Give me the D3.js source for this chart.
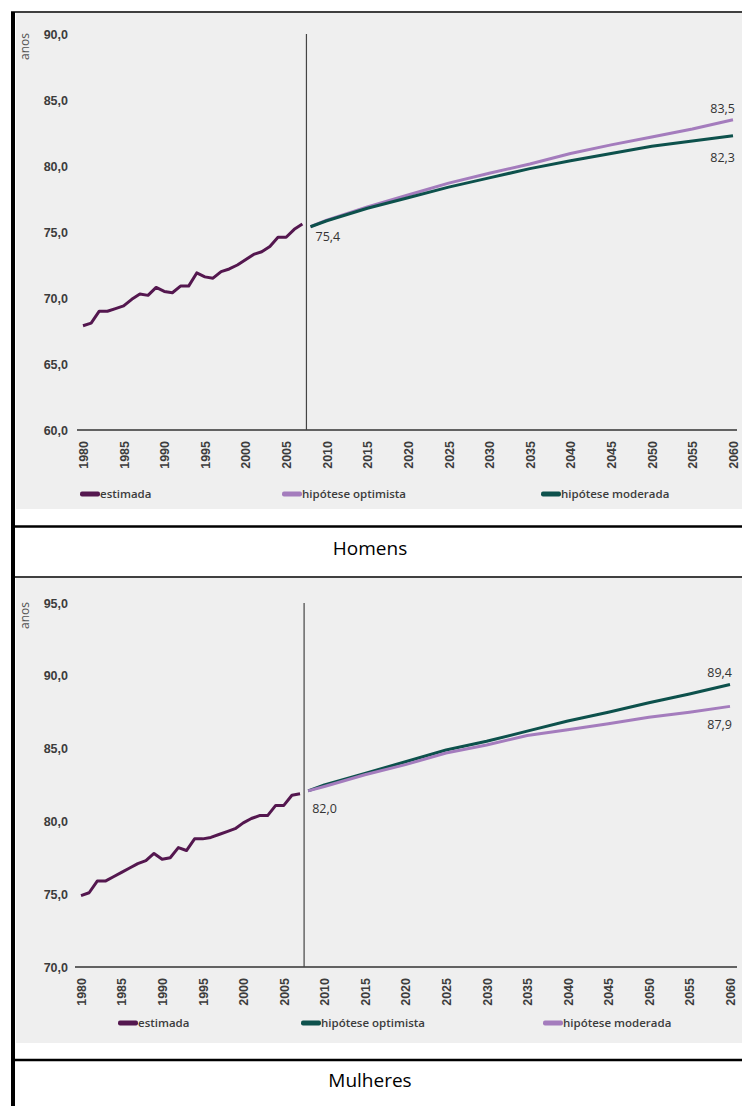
<!DOCTYPE html>
<html>
<head>
<meta charset="utf-8">
<style>
  body { margin: 0; background: #fff; }
  svg { display: block; font-family: "Open Sans", sans-serif; }
  .tick text { fill: #3c3c3c; font-weight: 600; }
</style>
<title>Esperança de vida</title>
</head>
<body>
<script src="https://cdn.jsdelivr.net/npm/d3@7"></script>
<script>

// Years
var histYears = d3.range(1980, 2008);
var projYears = [2008, 2010, 2015, 2020, 2025, 2030, 2035, 2040, 2045, 2050, 2055, 2060];
var xTicks = d3.range(1980, 2061, 5);

// Homens
var menEstimada  = [67.9, 68.1, 69.0, 69.0, 69.2, 69.4, 69.9, 70.3, 70.2, 70.8, 70.5, 70.4, 70.9, 70.9,
                    71.9, 71.6, 71.5, 72.0, 72.2, 72.5, 72.9, 73.3, 73.5, 73.9, 74.6, 74.6, 75.2, 75.6];
var menOptimista = [75.4, 75.9, 76.9, 77.8, 78.7, 79.45, 80.15, 80.95, 81.6, 82.2, 82.8, 83.5];
var menModerada  = [75.4, 75.85, 76.8, 77.6, 78.4, 79.1, 79.8, 80.4, 80.95, 81.5, 81.9, 82.3];
var menYTicks = [60, 65, 70, 75, 80, 85, 90];

// Mulheres
var womenEstimada  = [74.9, 75.1, 75.9, 75.9, 76.2, 76.5, 76.8, 77.1, 77.3, 77.8, 77.4, 77.5, 78.2, 78.0,
                      78.8, 78.8, 78.9, 79.1, 79.3, 79.5, 79.9, 80.2, 80.4, 80.4, 81.1, 81.1, 81.8, 81.9];
var womenOptimista = [82.1, 82.5, 83.3, 84.1, 84.9, 85.5, 86.2, 86.9, 87.5, 88.15, 88.75, 89.4];
var womenModerada  = [82.1, 82.4, 83.2, 83.9, 84.7, 85.25, 85.9, 86.3, 86.7, 87.15, 87.5, 87.9];
var womenYTicks = [70, 75, 80, 85, 90, 95];

var legendNames = ["estimada", "hipótese optimista", "hipótese moderada"];

var cEst = "#54174f", cLight = "#a47cbd", cTeal = "#0d514c";
var fmt = v => d3.format(".1f")(v).replace(".", ",");

var W = 742, H = 1106;
var svg = d3.select("body").append("svg")
    .attr("width", W)
    .attr("height", H);

// table-like frame
svg.append("rect").attr("x", 16).attr("y", 13).attr("width", W - 16).attr("height", 496).attr("fill", "#efefef");
svg.append("rect").attr("x", 16).attr("y", 578).attr("width", W - 16).attr("height", 465).attr("fill", "#efefef");
svg.append("rect").attr("x", 11).attr("y", 12).attr("width", 4).attr("height", H - 12).attr("fill", "#000");
[[12, 1.5], [526.5, 2.5], [577, 1.5], [1060, 2.5]].forEach(function(l) {
  svg.append("line")
      .attr("x1", 11).attr("x2", W)
      .attr("y1", l[0]).attr("y2", l[0])
      .attr("stroke", "#000").attr("stroke-width", l[1]);
});

svg.append("text").attr("x", 370).attr("y", 555).attr("text-anchor", "middle")
    .attr("font-family", "'Open Sans', sans-serif").attr("font-size", 19).text("Homens");
svg.append("text").attr("x", 370).attr("y", 1087).attr("text-anchor", "middle")
    .attr("font-family", "'Open Sans', sans-serif").attr("font-size", 19).text("Mulheres");

function drawChart(c) {
  var x = d3.scaleLinear().domain([1980, 2060]).range(c.xr);
  var y = d3.scaleLinear().domain(c.yd).range(c.yr);
  var g = svg.append("g");

  // y labels
  g.append("g")
      .attr("transform", `translate(68,0)`)
      .call(d3.axisLeft(y).tickValues(c.yTicks).tickSize(0).tickPadding(0).tickFormat(fmt))
      .call(a => a.select(".domain").remove())
      .selectAll("text").attr("font-size", 12.5);

  g.append("text")
      .attr("transform", `translate(29,${c.yr[1] - 1}) rotate(-90)`)
      .attr("text-anchor", "end")
      .attr("font-size", 12).attr("fill", "#555")
      .text("anos");

  // x labels
  var xa = g.append("g")
      .attr("transform", `translate(0,${c.yr[0]})`)
      .call(d3.axisBottom(x).tickValues(xTicks).tickSize(0).tickFormat(d3.format("d")));
  xa.select(".domain").remove();
  xa.selectAll("text")
      .attr("font-size", 12.5)
      .attr("transform", "rotate(-90)")
      .attr("text-anchor", "end")
      .attr("x", -11).attr("y", 0).attr("dy", "0.35em");

  g.append("line")
      .attr("x1", c.xr[0] - 6).attr("x2", 737)
      .attr("y1", c.yr[0]).attr("y2", c.yr[0])
      .attr("stroke", "#333").attr("stroke-width", 1.3);

  // separator between estimate and projections
  g.append("line")
      .attr("x1", x(2007.5)).attr("x2", x(2007.5))
      .attr("y1", c.yr[1]).attr("y2", c.yr[0])
      .attr("stroke", "#444").attr("stroke-width", 1.2);

  var line = d3.line().x(d => x(d[0])).y(d => y(d[1]));
  c.series.forEach(function(s) {
    g.append("path")
        .datum(s.years.map((yr, i) => [yr, s.values[i]]))
        .attr("fill", "none")
        .attr("stroke", s.color)
        .attr("stroke-width", 3)
        .attr("stroke-linejoin", "round")
        .attr("d", line);
  });

  // value labels
  c.labels.forEach(function(l) {
    g.append("text")
        .attr("x", x(l.year) + l.dx)
        .attr("y", y(l.value) + l.dy)
        .attr("text-anchor", l.anchor)
        .attr("font-size", 12.5).attr("fill", "#333")
        .text(fmt(l.text));
  });

  // legend
  var lg = g.append("g").attr("transform", `translate(0,${c.legendY})`);
  c.series.forEach(function(s, i) {
    lg.append("rect")
        .attr("x", c.legendX[i]).attr("y", -2.5)
        .attr("width", 20).attr("height", 5).attr("rx", 2)
        .attr("fill", s.color);
    lg.append("text")
        .attr("x", c.legendX[i] + 20).attr("y", 0).attr("dy", "0.35em")
        .attr("font-size", 11.5).attr("font-weight", 600).attr("fill", "#3c3c3c")
        .text(legendNames[i]);
  });
}

drawChart({
  xr: [83, 733], yd: [60, 90], yr: [430, 34], yTicks: menYTicks,
  legendY: 494, legendX: [80, 282, 541],
  series: [
    {years: histYears, values: menEstimada, color: cEst},
    {years: projYears, values: menOptimista, color: cLight},
    {years: projYears, values: menModerada, color: cTeal}
  ],
  labels: [
    {year: 2008, value: menModerada[0], text: 75.4, dx: 5, dy: 14, anchor: "start"},
    {year: 2060, value: 83.5, text: 83.5, dx: 2, dy: -7, anchor: "end"},
    {year: 2060, value: 82.3, text: 82.3, dx: 2, dy: 26, anchor: "end"}
  ]
});

drawChart({
  xr: [81, 730], yd: [70, 95], yr: [967, 603], yTicks: womenYTicks,
  legendY: 1023, legendX: [118, 301, 543],
  series: [
    {years: histYears, values: womenEstimada, color: cEst},
    {years: projYears, values: womenOptimista, color: cTeal},
    {years: projYears, values: womenModerada, color: cLight}
  ],
  labels: [
    {year: 2008, value: womenModerada[0], text: 82.0, dx: 4, dy: 22, anchor: "start"},
    {year: 2060, value: 89.4, text: 89.4, dx: 2, dy: -8, anchor: "end"},
    {year: 2060, value: 87.9, text: 87.9, dx: 2, dy: 23, anchor: "end"}
  ]
});

</script>
</body>
</html>
